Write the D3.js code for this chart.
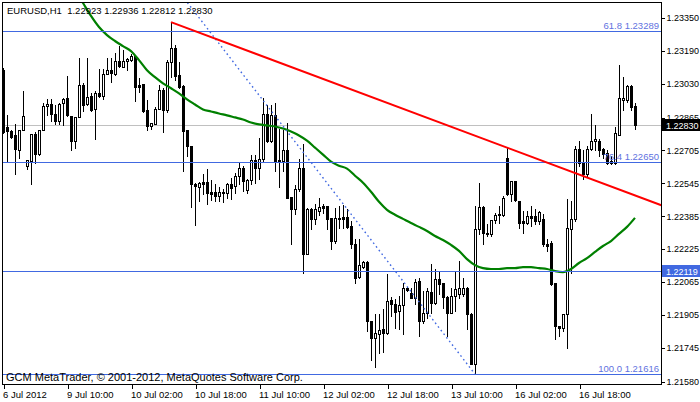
<!DOCTYPE html>
<html><head><meta charset="utf-8">
<script src="https://cdn.jsdelivr.net/npm/d3@7"></script>
<style>
html,body{margin:0;padding:0;background:#fff;}
svg{display:block;font-family:"Liberation Sans",Arial,sans-serif;}
</style></head><body>
<svg id="c" width="700" height="402"></svg>
<script>
const symbolTitle = "EURUSD,H1";
const lastQuote = ["1.22923","1.22936","1.22812","1.22830"];
const copyright = "GCM MetaTrader, \u00A9 2001-2012, MetaQuotes Software Corp.";

const opens = [1.23096,1.22817,1.22802,1.22778,1.22709,1.22807,1.22631,1.22656,1.22783,1.22690,
1.22807,1.22920,1.22929,1.22881,1.22851,1.22934,1.22959,1.22871,1.22749,1.22866,
1.23022,1.22929,1.22969,1.22905,1.22983,1.22969,1.23076,1.23096,1.23076,1.23140,
1.23110,1.23140,1.23145,1.23164,1.23022,1.23027,1.22900,1.22822,1.22832,1.22905,
1.22998,1.22900,1.23135,1.23203,1.23071,1.23018,1.22807,1.22729,1.22543,1.22528,
1.22553,1.22553,1.22504,1.22504,1.22484,1.22504,1.22499,1.22543,1.22533,1.22582,
1.22621,1.22514,1.22563,1.22661,1.22621,1.22665,1.22885,1.22749,1.22876,1.22661,
1.22656,1.22705,1.22480,1.22421,1.22519,1.22621,1.22201,1.22421,1.22372,1.22411,
1.22436,1.22436,1.22377,1.22264,1.22377,1.22382,1.22382,1.22338,1.22250,1.22088,
1.22137,1.22162,1.21873,1.21790,1.21810,1.21834,1.21815,1.21976,1.21956,1.21922,
1.21951,1.22035,1.22010,1.21986,1.22069,1.21873,1.21912,1.22015,1.21961,1.22079,
1.22059,1.21991,1.21912,1.21995,1.22005,1.22005,1.22035,1.21907,1.21663,1.22323,
1.22431,1.22304,1.22299,1.22367,1.22392,1.22392,1.22670,1.22494,1.22558,1.22460,
1.22362,1.22352,1.22387,1.22387,1.22362,1.22372,1.22250,1.22255,1.22059,1.21849,
1.21839,1.21907,1.22323,1.22372,1.22714,1.22646,1.22592,1.22714,1.22753,1.22753,
1.22714,1.22695,1.22656,1.22646,1.22778,1.22949,1.22949,1.23018,1.22923];
const highs = [1.23106,1.22876,1.22807,1.22832,1.22807,1.22993,1.22661,1.22783,1.22793,1.22807,
1.22934,1.22954,1.22954,1.22925,1.22934,1.22959,1.23066,1.22871,1.22866,1.23154,
1.23032,1.23154,1.22983,1.22993,1.23101,1.23101,1.23154,1.23154,1.23179,1.23213,
1.23194,1.23154,1.23174,1.23169,1.23057,1.23027,1.22949,1.22837,1.22915,1.23022,
1.23008,1.23145,1.23330,1.23218,1.23135,1.23022,1.22807,1.22729,1.22548,1.22553,
1.22592,1.22617,1.22563,1.22543,1.22528,1.22519,1.22548,1.22572,1.22597,1.22646,
1.22631,1.22568,1.22685,1.22685,1.22768,1.22959,1.22925,1.22925,1.22934,1.22812,
1.22807,1.22837,1.22480,1.22538,1.22665,1.22739,1.22426,1.22426,1.22445,1.22475,
1.22445,1.22436,1.22377,1.22426,1.22436,1.22440,1.22421,1.22362,1.22274,1.22274,
1.22167,1.22167,1.21873,1.21907,1.21907,1.21932,1.22103,1.21991,1.21981,1.21995,
1.22059,1.22040,1.22035,1.22079,1.22084,1.22020,1.22035,1.22152,1.22128,1.22118,
1.22059,1.21995,1.22035,1.22118,1.22167,1.22084,1.22040,1.21912,1.22436,1.22548,
1.22436,1.22348,1.22367,1.22401,1.22436,1.22484,1.22719,1.22558,1.22558,1.22460,
1.22411,1.22411,1.22436,1.22421,1.22411,1.22396,1.22274,1.22264,1.22059,1.21849,
1.21907,1.22470,1.22460,1.22729,1.22753,1.22705,1.22729,1.22885,1.22827,1.22763,
1.22719,1.22705,1.22680,1.22817,1.23120,1.23062,1.23022,1.23022,1.22936];
const lows = [1.22788,1.22651,1.22768,1.22592,1.22670,1.22807,1.22617,1.22543,1.22646,1.22685,
1.22807,1.22876,1.22851,1.22832,1.22832,1.22827,1.22871,1.22705,1.22719,1.22866,
1.22895,1.22925,1.22895,1.22763,1.22964,1.22954,1.23076,1.23037,1.23071,1.23110,
1.23110,1.23096,1.23140,1.22944,1.22988,1.22890,1.22807,1.22812,1.22832,1.22905,
1.22797,1.22890,1.23062,1.23047,1.23008,1.22607,1.22680,1.22431,1.22343,1.22460,
1.22494,1.22445,1.22465,1.22460,1.22460,1.22455,1.22475,1.22470,1.22499,1.22543,
1.22509,1.22499,1.22543,1.22548,1.22568,1.22656,1.22744,1.22744,1.22607,1.22528,
1.22607,1.22475,1.22250,1.22396,1.22509,1.22108,1.22201,1.22323,1.22348,1.22392,
1.22401,1.22323,1.22225,1.22255,1.22328,1.22328,1.22328,1.22230,1.22059,1.22084,
1.22132,1.21824,1.21687,1.21653,1.21717,1.21722,1.21810,1.21898,1.21839,1.21834,
1.21810,1.22020,1.21986,1.21956,1.21800,1.21863,1.21888,1.21912,1.21956,1.22005,
1.21937,1.21800,1.21912,1.21922,1.21986,1.21995,1.21834,1.21663,1.21616,1.22299,
1.22250,1.22289,1.22289,1.22352,1.22352,1.22387,1.22489,1.22460,1.22460,1.22328,
1.22304,1.22348,1.22338,1.22348,1.22348,1.22240,1.22216,1.22049,1.21785,1.21800,
1.21824,1.21741,1.22108,1.22362,1.22631,1.22568,1.22582,1.22705,1.22705,1.22680,
1.22670,1.22641,1.22641,1.22641,1.22778,1.22900,1.22939,1.22900,1.22812];
const closes = [1.22793,1.22802,1.22773,1.22714,1.22807,1.22871,1.22661,1.22783,1.22690,1.22807,
1.22920,1.22929,1.22881,1.22851,1.22929,1.22954,1.22876,1.22749,1.22866,1.23022,
1.22925,1.22964,1.22900,1.22983,1.22969,1.23076,1.23096,1.23081,1.23140,1.23115,
1.23140,1.23150,1.23164,1.23013,1.23013,1.22895,1.22822,1.22837,1.22905,1.22998,
1.22900,1.23135,1.23203,1.23066,1.23013,1.22802,1.22729,1.22543,1.22533,1.22548,
1.22543,1.22499,1.22494,1.22484,1.22504,1.22499,1.22543,1.22524,1.22582,1.22621,
1.22558,1.22563,1.22661,1.22621,1.22665,1.22885,1.22749,1.22876,1.22651,1.22651,
1.22705,1.22475,1.22421,1.22519,1.22621,1.22201,1.22421,1.22372,1.22421,1.22431,
1.22426,1.22372,1.22264,1.22377,1.22372,1.22372,1.22333,1.22250,1.22084,1.22147,
1.22162,1.21873,1.21790,1.21815,1.21829,1.21815,1.21971,1.21956,1.21917,1.21951,
1.22035,1.22025,1.21986,1.22064,1.21873,1.21912,1.22020,1.21961,1.22079,1.22054,
1.21991,1.21912,1.21995,1.22030,1.22035,1.22035,1.21907,1.21663,1.22323,1.22431,
1.22304,1.22299,1.22367,1.22392,1.22396,1.22475,1.22494,1.22558,1.22465,1.22352,
1.22352,1.22387,1.22377,1.22362,1.22406,1.22250,1.22240,1.22054,1.21849,1.21839,
1.21907,1.22328,1.22372,1.22714,1.22646,1.22592,1.22714,1.22753,1.22763,1.22705,
1.22690,1.22646,1.22646,1.22788,1.22959,1.22959,1.23018,1.22915,1.22830];

const maBars = [18,20,22,24,26,28,30,32,34,36,38,40,42,44,46,48,50,52,54,56,58,60,62,64,66,68,70,72,74,76,78,80,
82,84,86,88,90,92,94,96,98,100,102,104,106,108,110,112,114,116,118,120,122,124,126,128,130,132,134,136,138,140,
142,144,146,148,150,152,154,156,158];
const maValues = [1.23487,1.23423,1.23360,1.23306,1.23267,1.23238,1.23213,1.23189,1.23145,1.23096,1.23062,1.23032,
1.23008,1.22983,1.22954,1.22929,1.22905,1.22895,1.22885,1.22876,1.22866,1.22856,1.22841,1.22832,1.22827,1.22822,
1.22812,1.22797,1.22778,1.22753,1.22719,1.22685,1.22651,1.22631,1.22617,1.22582,1.22548,1.22504,1.22455,1.22416,
1.22392,1.22372,1.22352,1.22333,1.22313,1.22289,1.22269,1.22245,1.22216,1.22176,1.22147,1.22132,1.22128,1.22128,
1.22132,1.22132,1.22137,1.22137,1.22132,1.22128,1.22118,1.22113,1.22128,1.22157,1.22181,1.22211,1.22240,1.22264,
1.22299,1.22333,1.22377];

const priceTicks = [1.23350,1.23190,1.23030,1.22865,1.22705,1.22545,1.22385,1.22225,1.22065,1.21905,1.21745,1.21580];
const timeTickBars = [0,16,32,48,64,80,96,112,128,144];
const timeTickLabels = ["6 Jul 2012","9 Jul 10:00","10 Jul 02:00","10 Jul 18:00","11 Jul 10:00","12 Jul 02:00",
"12 Jul 18:00","13 Jul 10:00","16 Jul 02:00","16 Jul 18:00"];

const fibLevels = ["61.8","76.4","100.0"];
const fibPrices = [1.23289,1.22650,1.21616];
const fibTrendBars = [-56,118];
const fibTrendPrices = [1.25993,1.21616];
const trendBars = [42,126];
const trendPrices = [1.23330,1.22719];
const hLinePrice = 1.22119;
const bidPrice = 1.22830;

const L = 2, R = 661, T = 2, B = 384;
const FS = 9;
const svg = d3.select("#c");
const x = d3.scaleLinear().domain([0, 164.5]).range([3, R]);
const y = d3.scaleLinear().domain([1.21568, 1.23428]).range([B, T]);
const py = p => Math.round(y(p));

svg.append("defs").append("clipPath").attr("id","plot")
  .append("rect").attr("x",L+1).attr("y",T+1).attr("width",R-L-1).attr("height",B-T-1);
const plot = svg.append("g").attr("clip-path","url(#plot)");

// bid line
plot.append("line").attr("x1",L).attr("x2",R).attr("y1",py(bidPrice)+0.5).attr("y2",py(bidPrice)+0.5)
  .attr("stroke","#c0c0c0").attr("stroke-width",1);

// candles
const cg = plot.append("g").attr("shape-rendering","crispEdges");
d3.range(opens.length).forEach(i => {
  const cx = Math.round(x(i));
  const yh = py(highs[i]), yl = py(lows[i]);
  const o = opens[i], c = closes[i];
  const top = py(Math.max(o,c)), bot = py(Math.min(o,c));
  cg.append("rect").attr("x",cx).attr("y",yh).attr("width",1).attr("height",yl-yh+1).attr("fill","#000");
  cg.append("rect").attr("x",cx-1).attr("y",top).attr("width",3).attr("height",bot-top+1).attr("fill","#000");
  if (c > o && bot-top-1 > 0) {
    cg.append("rect").attr("x",cx).attr("y",top+1).attr("width",1).attr("height",bot-top-1).attr("fill","#fff");
  }
});

// moving average
plot.append("path")
  .attr("d", d3.line().x((d,k)=>x(maBars[k])).y(d=>y(d)).curve(d3.curveMonotoneX)(maValues))
  .attr("fill","none").attr("stroke","#008000").attr("stroke-width",2.2);

// fib horizontal levels
const blue = "#4169e1";
fibPrices.forEach(p => {
  plot.append("line").attr("x1",L).attr("x2",R).attr("y1",py(p)+0.5).attr("y2",py(p)+0.5)
    .attr("stroke",blue).attr("stroke-width",1);
});
// horizontal line
plot.append("line").attr("x1",L).attr("x2",R).attr("y1",py(hLinePrice)+0.5).attr("y2",py(hLinePrice)+0.5)
  .attr("stroke",blue).attr("stroke-width",1);

// fib trend (dotted)
plot.append("line")
  .attr("x1",x(fibTrendBars[0])).attr("y1",y(fibTrendPrices[0]))
  .attr("x2",x(fibTrendBars[1])).attr("y2",y(fibTrendPrices[1]))
  .attr("stroke",blue).attr("stroke-width",1.4).attr("stroke-dasharray","1.6,3");

// red trend line (ray)
const slope = (trendPrices[1]-trendPrices[0])/(trendBars[1]-trendBars[0]);
const endBar = 165;
plot.append("line")
  .attr("x1",x(trendBars[0])).attr("y1",y(trendPrices[0]))
  .attr("x2",x(endBar)).attr("y2",y(trendPrices[0]+slope*(endBar-trendBars[0])))
  .attr("stroke","#ff0000").attr("stroke-width",2);

// fib labels
fibPrices.forEach((p,k) => {
  svg.append("text").attr("x",659).attr("y",py(p)-2).attr("text-anchor","end")
    .attr("font-size",9.5).attr("fill","#5f72e0").text(fibLevels[k]+" "+p.toFixed(5));
});

// texts
svg.append("text").attr("x",7).attr("y",14).attr("font-size",9.5).attr("fill","#000")
  .attr("xml:space","preserve").style("white-space","pre")
  .text(symbolTitle+"  "+lastQuote.join(" "));
svg.append("text").attr("x",6).attr("y",381).attr("font-size",11).attr("fill","#000").text(copyright);

// frame
svg.append("rect").attr("x",L+0.5).attr("y",T+0.5).attr("width",R-L).attr("height",B-T)
  .attr("fill","none").attr("stroke","#000").attr("stroke-width",1).attr("shape-rendering","crispEdges");

// price axis
const ya = svg.append("g").attr("transform",`translate(${R+0.5},0)`)
  .call(d3.axisRight(y).tickValues(priceTicks).tickSize(3).tickPadding(2).tickFormat(d=>d.toFixed(5)));
ya.select(".domain").remove();
ya.selectAll("text").attr("font-size",FS).attr("font-family","Liberation Sans, Arial, sans-serif").attr("fill","#000");
ya.selectAll("line").attr("stroke","#000").attr("shape-rendering","crispEdges");

// time axis
const xa = svg.append("g").attr("transform",`translate(0.5,${B+0.5})`)
  .call(d3.axisBottom(x).tickValues(timeTickBars).tickSize(4).tickPadding(3)
    .tickFormat((d,k)=>timeTickLabels[k]));
xa.select(".domain").remove();
xa.selectAll("text").attr("text-anchor","start").attr("font-size",9.5)
  .attr("font-family","Liberation Sans, Arial, sans-serif").attr("fill","#000").attr("dx",-1);
xa.selectAll("line").attr("stroke","#000").attr("shape-rendering","crispEdges");

// price markers
function marker(p, bg) {
  const yy = py(p);
  svg.append("rect").attr("x",R+1).attr("y",yy-6).attr("width",700-R-1).attr("height",12).attr("fill",bg);
  svg.append("text").attr("x",R+5).attr("y",yy+3.5).attr("font-size",FS).attr("fill","#fff").text(p.toFixed(5));
}
marker(bidPrice, "#000");
marker(hLinePrice, blue);
</script>
</body></html>
